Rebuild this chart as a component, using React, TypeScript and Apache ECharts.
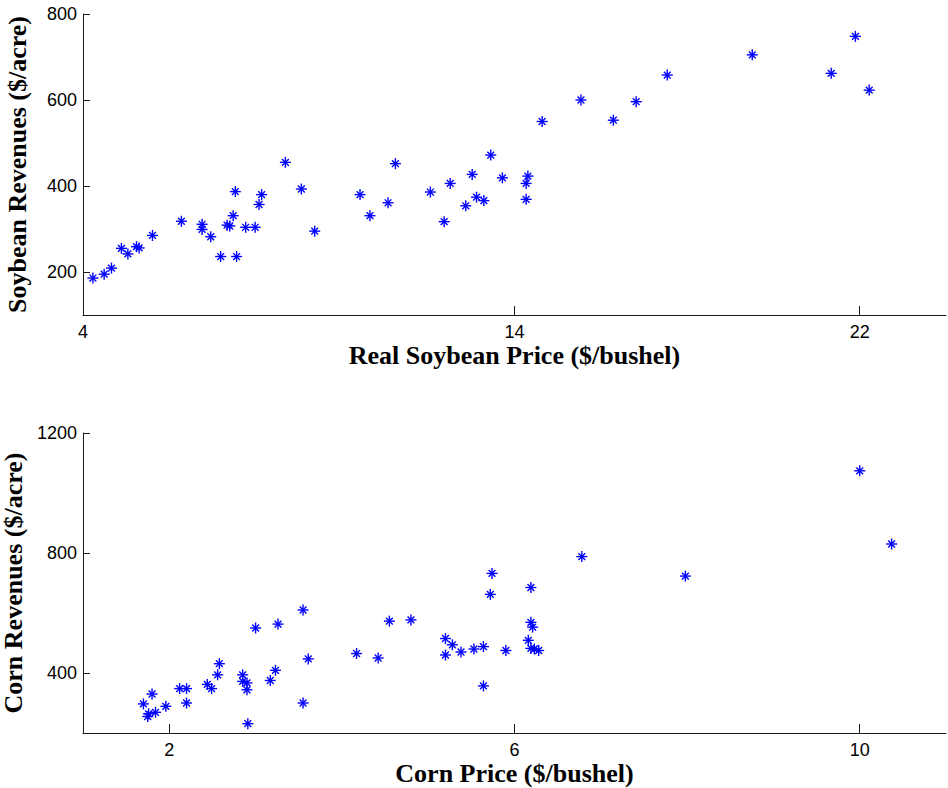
import React, { useEffect, useRef } from "react";
import * as echarts from "echarts";

// Soybeans: real price ($/bushel) and revenue ($/acre)
const soyPrice = [
  4.23, 4.49, 4.66, 4.89, 5.04, 5.24, 5.3, 5.61, 6.28, 6.76,
  6.76, 6.96, 7.19, 7.34, 7.4, 7.48, 7.53, 7.56, 7.77, 7.99,
  8.08, 8.14, 8.69, 9.06, 9.37, 10.42, 10.65, 11.07, 11.24, 12.05,
  12.37, 12.51, 12.87, 13.02, 13.12, 13.29, 13.45, 13.72, 14.31, 14.27,
  14.27, 14.64, 15.54, 16.29, 16.82, 17.54, 19.51, 21.34, 21.9, 22.22,
];
const soyRevenue = [
  186, 195, 209, 255, 242, 259, 256, 285, 318, 311,
  299, 282, 236, 309, 307, 331, 387, 236, 304, 304,
  357, 380, 455, 393, 295, 380, 331, 361, 452, 386,
  317, 406, 354, 427, 374, 366, 472, 419, 423, 406,
  369, 550, 600, 553, 596, 658, 705, 662, 748, 623,
];

// Corn: price ($/bushel) and revenue ($/acre)
const cornPrice = [
  1.7, 1.75, 1.76, 1.8, 1.84, 1.96, 2.12, 2.2, 2.2, 2.44,
  2.49, 2.56, 2.58, 2.85, 2.85, 2.9, 2.9, 2.91, 3.0, 3.17,
  3.23, 3.26, 3.55, 3.55, 3.61, 4.17, 4.42, 4.55, 4.8, 5.2,
  5.2, 5.28, 5.38, 5.53, 5.64, 5.64, 5.72, 5.74, 5.9, 6.16,
  6.19, 6.19, 6.21, 6.19, 6.23, 6.28, 6.78, 7.98, 10.0, 10.37,
];
const cornRevenue = [
  297, 255, 264, 330, 269, 289, 348, 348, 300, 362,
  348, 394, 431, 394, 372, 367, 344, 231, 550, 375,
  409, 563, 610, 300, 447, 465, 450, 573, 577, 515,
  460, 494, 470, 480, 488, 357, 662, 732, 475, 509,
  685, 569, 553, 482, 480, 475, 788, 723, 1074, 830,
];

// Tick values
const soyPriceTicks = [4, 14, 22];
const soyRevenueTicks = [200, 400, 600, 800];
const cornPriceTicks = [2, 6, 10];
const cornRevenueTicks = [400, 800, 1200];

const MARKER_COLOR = "#0000ff";
const AXIS_COLOR = "#1a1a1a";

// Asterisk marker: horizontal, vertical and two diagonal strokes
const renderAsterisk = (_params: any, api: any) => {
  const [cx, cy] = api.coord([api.value(0), api.value(1)]);
  const s = 5.5;
  const d = 3.4;
  const style = { stroke: MARKER_COLOR, lineWidth: 1.4 };
  return {
    type: "group",
    children: [
      { type: "line", shape: { x1: cx - s, y1: cy, x2: cx + s, y2: cy }, style },
      { type: "line", shape: { x1: cx, y1: cy - s, x2: cx, y2: cy + s }, style },
      { type: "line", shape: { x1: cx - d, y1: cy - d, x2: cx + d, y2: cy + d }, style },
      { type: "line", shape: { x1: cx - d, y1: cy + d, x2: cx + d, y2: cy - d }, style },
    ],
  };
};

const nameStyle = {
  fontFamily: "Liberation Serif",
  fontWeight: "bold" as const,
  fontSize: 26,
  color: "#000",
};

const labelStyle = {
  fontFamily: "Liberation Sans",
  fontSize: 18,
  color: "#000",
};

const plain = (v: number) => String(v);

const makeXAxis = (gridIndex: number, name: string, min: number, max: number, ticks: number[]) => ({
  type: "value",
  gridIndex,
  name,
  nameLocation: "middle",
  nameGap: 27,
  nameTextStyle: nameStyle,
  min,
  max,
  splitLine: { show: false },
  axisLine: { show: true, onZero: false, lineStyle: { color: AXIS_COLOR, width: 1 } },
  axisTick: { show: true, inside: true, length: 9, customValues: ticks, lineStyle: { color: AXIS_COLOR } },
  axisLabel: { ...labelStyle, margin: 8, formatter: plain, customValues: ticks, showMinLabel: true, showMaxLabel: true },
});

const makeYAxis = (gridIndex: number, name: string, min: number, max: number, ticks: number[]) => ({
  type: "value",
  gridIndex,
  name,
  nameLocation: "middle",
  nameGap: 53,
  nameTextStyle: nameStyle,
  min,
  max,
  splitLine: { show: false },
  axisLine: { show: true, onZero: false, lineStyle: { color: AXIS_COLOR, width: 1 } },
  axisTick: { show: true, inside: true, length: 7, customValues: ticks, lineStyle: { color: AXIS_COLOR } },
  axisLabel: { ...labelStyle, margin: 6, formatter: plain, customValues: ticks, showMinLabel: true, showMaxLabel: true },
});

export default function App() {
  const ref = useRef<HTMLDivElement>(null);

  useEffect(() => {
    if (!ref.current) return;
    const chart = echarts.init(ref.current, undefined, { renderer: "svg" });

    const soyData = soyPrice.map((p, i) => [p, soyRevenue[i]]);
    const cornData = cornPrice.map((p, i) => [p, cornRevenue[i]]);

    chart.setOption({
      animation: false,
      backgroundColor: "#ffffff",
      grid: [
        { left: 83, top: 14, width: 863, height: 301, containLabel: false, outerBoundsMode: "none" },
        { left: 83, top: 433, width: 863, height: 300, containLabel: false, outerBoundsMode: "none" },
      ],
      xAxis: [
        makeXAxis(0, "Real Soybean Price ($/bushel)", 4, 24, soyPriceTicks),
        makeXAxis(1, "Corn Price ($/bushel)", 1, 11, cornPriceTicks),
      ],
      yAxis: [
        makeYAxis(0, "Soybean Revenues ($/acre)", 100, 800, soyRevenueTicks),
        makeYAxis(1, "Corn Revenues ($/acre)", 200, 1200, cornRevenueTicks),
      ],
      series: [
        {
          type: "custom",
          name: "Soybean",
          xAxisIndex: 0,
          yAxisIndex: 0,
          coordinateSystem: "cartesian2d",
          encode: { x: 0, y: 1 },
          renderItem: renderAsterisk,
          data: soyData,
        },
        {
          type: "custom",
          name: "Corn",
          xAxisIndex: 1,
          yAxisIndex: 1,
          coordinateSystem: "cartesian2d",
          encode: { x: 0, y: 1 },
          renderItem: renderAsterisk,
          data: cornData,
        },
      ],
    });

    return () => chart.dispose();
  }, []);

  return (
    <div
      ref={ref}
      style={{ position: "absolute", left: 0, top: 0, width: 948, height: 788, background: "#fff" }}
    />
  );
}
